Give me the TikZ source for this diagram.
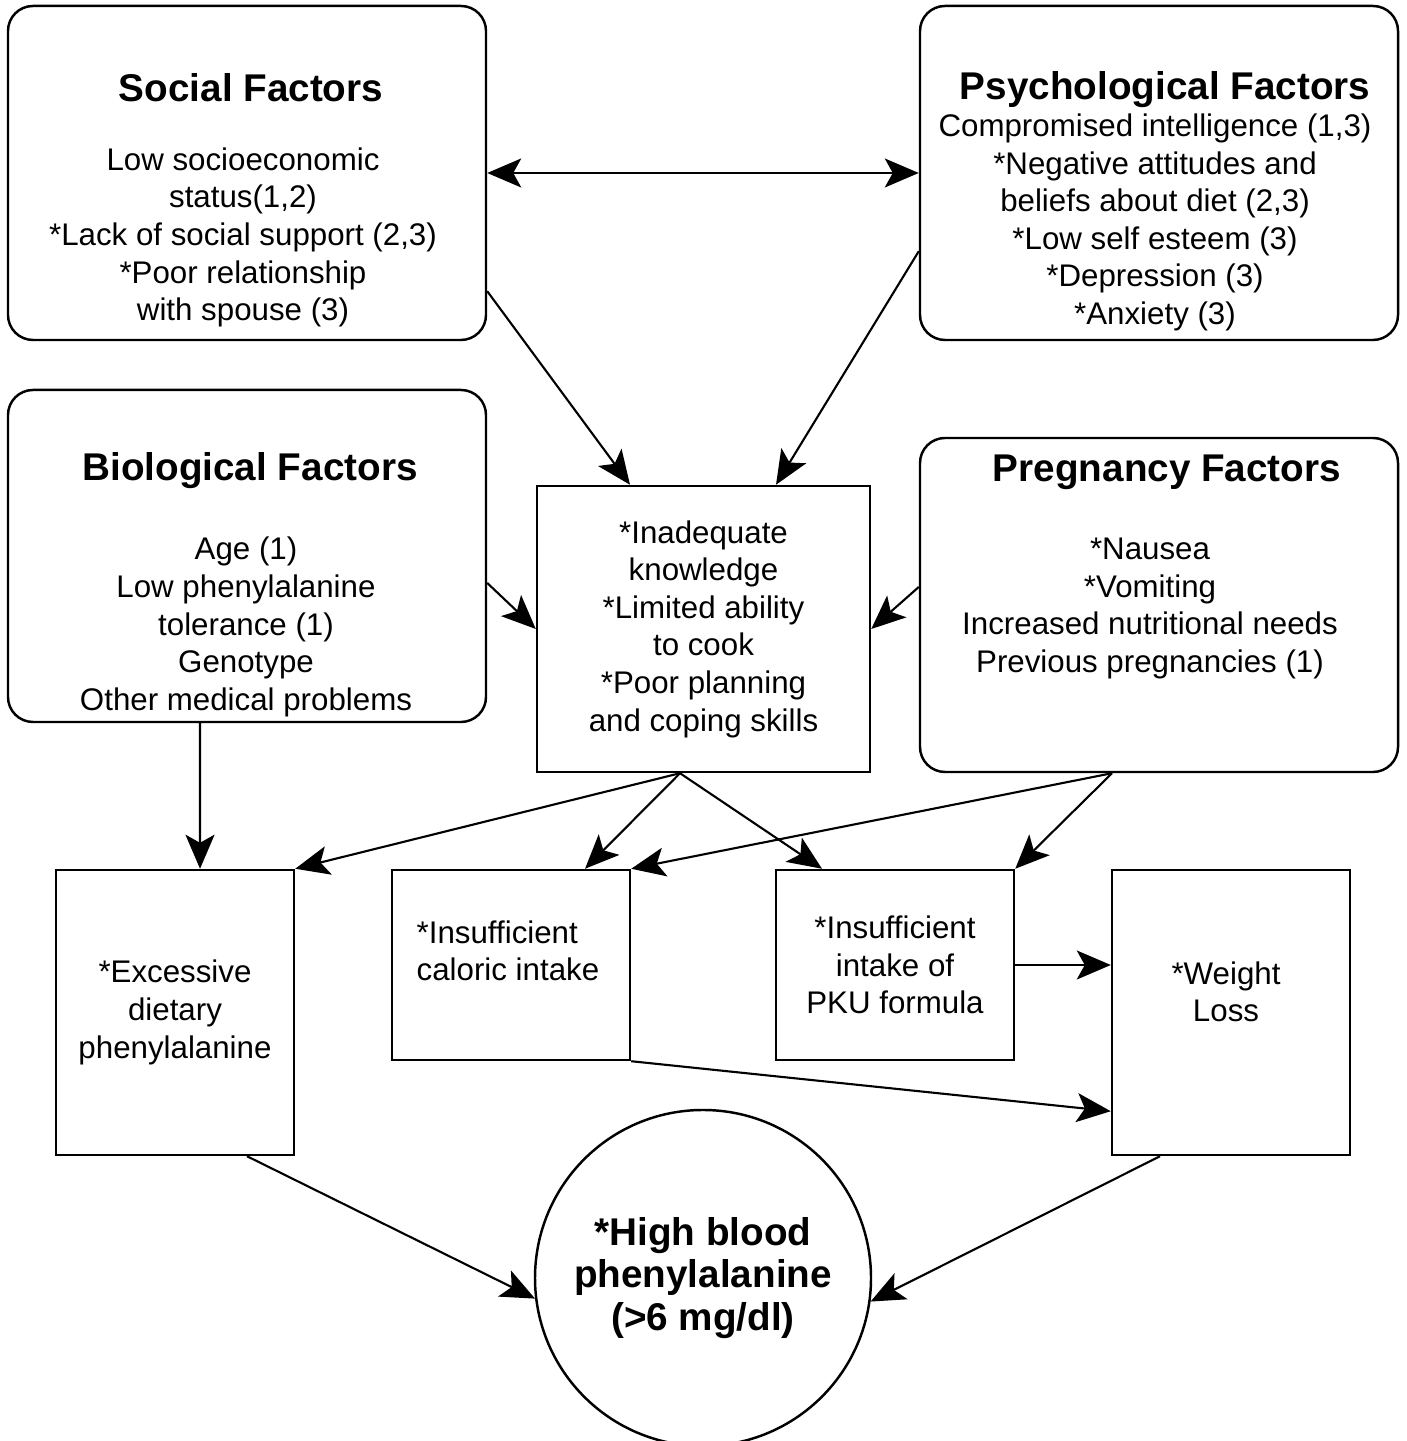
\documentclass[tikz,border=0pt]{standalone}
\usepackage{fontspec}
\setmainfont{Liberation Sans}
\usetikzlibrary{positioning, arrows.meta}
\tikzset{
    bigbox/.style={draw, rounded corners=0.25cm, line width=0.7pt, minimum width=4.78cm, minimum height=3.34cm},
    midbox/.style={draw, line width=0.7pt, minimum width=3.33cm, minimum height=2.86cm, align=center, font=\bodyfont},
    tallbox/.style={draw, line width=0.7pt, minimum width=2.38cm, minimum height=2.85cm, align=center, font=\bodyfont},
    shortbox/.style={draw, line width=0.7pt, minimum width=2.38cm, minimum height=1.90cm, align=center, font=\bodyfont},
    bigcircle/.style={draw, circle, line width=0.7pt, minimum size=3.36cm, align=center, font=\headfont},
    head/.style={inner sep=0pt, font=\headfont},
    body/.style={inner sep=0pt, align=center, font=\bodyfont},
    arr/.style={line width=0.6pt}
}
\newcommand{\bodyfont}{\fontsize{8.9}{10.7}\selectfont}
\newcommand{\headfont}{\fontsize{11}{12}\selectfont\bfseries}

\begin{document}
\begin{tikzpicture}[>={Stealth[length=3.4mm, width=2.9mm, inset=0.8mm]}]
  \useasboundingbox (0,0) rectangle (14.06,14.41);
  % the four groups of factors
  \node(soc)[bigbox] at (2.47,12.68){};
  \node(psy)[bigbox] at (11.59,12.68){};
  \node(bio)[bigbox, minimum height=3.32cm] at (2.47,8.85){};
  \node(prg)[bigbox] at (11.59,8.36){};
  \node(socT)[head] at (2.51,13.53){Social Factors};
  \node(socB)[body] at (2.43,12.035){Low socioeconomic\\status(1,2)\\*Lack of social support (2,3)\\*Poor relationship\\with spouse (3)};
  \node(psyT)[head] at (11.65,13.51){Psychological Factors};
  \node(psyB)[body] at (11.55,12.185){Compromised intelligence (1,3)\\*Negative attitudes and\\beliefs about diet (2,3)\\*Low self esteem (3)\\*Depression (3)\\*Anxiety (3)};
  \node(bioT)[head] at (2.50,9.70){Biological Factors};
  \node(bioB)[body] at (2.46,8.14){Age (1)\\Low phenylalanine\\tolerance (1)\\Genotype\\Other medical problems};
  \node(prgT)[head] at (11.67,9.69){Pregnancy Factors};
  \node(prgB)[body] at (11.50,8.325){*Nausea\\*Vomiting\\Increased nutritional needs\\Previous pregnancies (1)};
  % behaviours and outcomes
  \node(ctr)[midbox] at (7.035,8.12){*Inadequate\\knowledge\\*Limited ability\\to cook\\*Poor planning\\and coping skills};
  \node(exc)[tallbox] at (1.75,4.285){*Excessive\\dietary\\phenylalanine};
  \node(cal)[shortbox] at (5.11,4.76){};
  \node(calT)[body, align=left, anchor=west] at (4.16,4.90){*Insufficient\\caloric intake};
  \node(pku)[shortbox] at (8.95,4.76){*Insufficient\\intake of\\PKU formula};
  \node(wt)[tallbox] at (12.31,4.285){};
  \node(wtT)[body] at (12.26,4.49){*Weight\\Loss};
  \node(hb)[bigcircle] at (7.03,1.63){*High blood\\phenylalanine\\(>6 mg/dl)};
  % connectors
  \draw[arr, <->](soc)--(psy);
  \draw[arr, ->]([yshift=0.5cm]soc.south east)--([xshift=-0.735cm]ctr.north);
  \draw[arr, ->]([yshift=0.9cm]psy.south west)--([xshift=0.725cm]ctr.north);
  \draw[arr, ->]([yshift=-0.27cm]bio.east)--(ctr.west);
  \draw[arr, ->]([yshift=0.18cm]prg.west)--(ctr.east);
  \draw[arr, ->]([xshift=-0.47cm]bio.south)--([xshift=0.25cm]exc.north);
  \draw[arr, ->]([xshift=-0.235cm]ctr.south)--(exc.north east);
  \draw[arr, ->]([xshift=-0.235cm]ctr.south)--([xshift=0.74cm]cal.north);
  \draw[arr, ->]([xshift=-0.235cm]ctr.south)--([xshift=-0.73cm]pku.north);
  \draw[arr, ->]([xshift=-0.47cm]prg.south)--(cal.north east);
  \draw[arr, ->]([xshift=-0.47cm]prg.south)--(pku.north east);
  \draw[arr, ->](pku.east)--(pku.east -| wt.west);
  \draw[arr, ->](cal.south east)--([yshift=0.45cm]wt.south west);
  \draw[arr, ->]([xshift=0.72cm]exc.south)--(hb.187.5);
  \draw[arr, ->]([xshift=-0.71cm]wt.south)--(hb.352.5);
\end{tikzpicture}
\end{document}
